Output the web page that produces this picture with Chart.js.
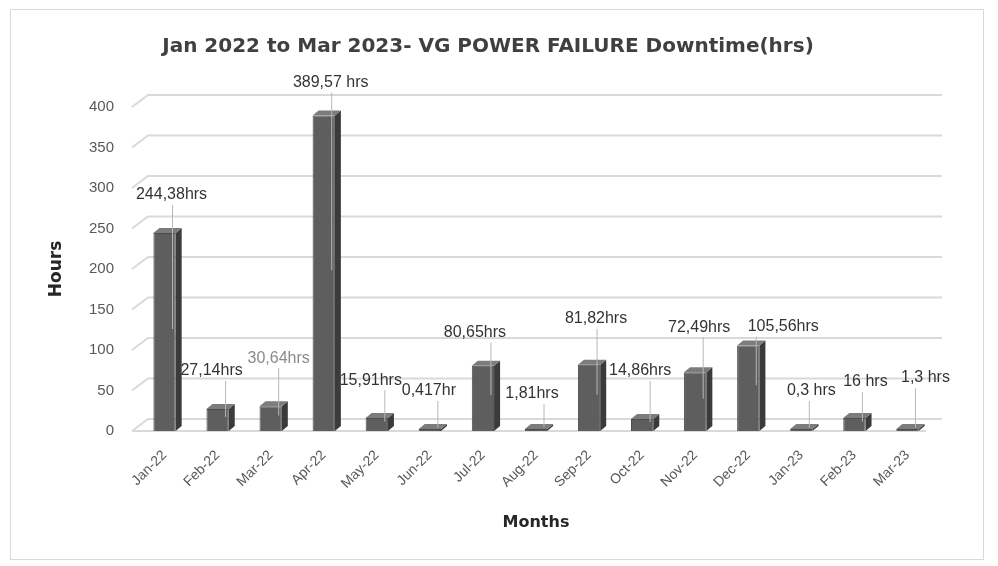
<!DOCTYPE html>
<html>
<head>
<meta charset="utf-8">
<script src="https://cdn.jsdelivr.net/npm/chart.js@4.4.0/dist/chart.umd.min.js"></script>
<style>
  body { margin: 0; background: #fff; }
  #wrap { position: relative; width: 998px; height: 566px; }
  #frame { position: absolute; left: 10px; top: 9px; width: 972px; height: 549px; border: 1px solid #d9d9d9; }
  canvas { position: absolute; left: 0; top: 0; }
</style>
</head>
<body>
<div id="wrap">
  <div id="frame"></div>
  <canvas id="chart" width="998" height="566"></canvas>
</div>
<script>
// === Data ===
const months = ['Jan-22','Feb-22','Mar-22','Apr-22','May-22','Jun-22','Jul-22','Aug-22','Sep-22','Oct-22','Nov-22','Dec-22','Jan-23','Feb-23','Mar-23'];
const downtime = [244.38, 27.14, 30.64, 389.57, 15.91, 0.417, 80.65, 1.81, 81.82, 14.86, 72.49, 105.56, 0.3, 16, 1.3];
const valueLabels = ['244,38hrs','27,14hrs','30,64hrs','389,57 hrs','15,91hrs','0,417hr','80,65hrs','1,81hrs','81,82hrs','14,86hrs','72,49hrs','105,56hrs','0,3 hrs','16 hrs','1,3 hrs'];

// label placement (px, relative to bar centre / bar top) – layout only
const labelOffsets = [[7,-38],[-6,-38],[8,-48],[7,-33],[-6,-38],[-1,-38],[-8,-33],[-4,-35],[7,-46],[-2,-48],[4,-45],[35,-19],[10,-38],[11,-36],[18,-51]];
const labelColors = months.map((m, i) => i === 2 ? '#8a8a8a' : '#333333');

const FONT = "'Liberation Sans', Arial, sans-serif";
const HEAD = "'DejaVu Sans', Verdana, sans-serif";
const DEPTH = 6, RISE = 5;

// === Back wall grid with perspective stub ===
const wallGrid = {
  id: 'wallGrid',
  beforeDatasetsDraw(chart) {
    const { ctx, chartArea: a, scales: { y } } = chart;
    ctx.save();
    ctx.strokeStyle = '#d9d9d9';
    ctx.lineWidth = 2;
    y.ticks.forEach(t => {
      const py = y.getPixelForValue(t.value);
      ctx.beginPath();
      ctx.moveTo(a.left - 6, py);
      ctx.lineTo(a.left + 10, py - 12);
      ctx.lineTo(a.right + 8, py - 12);
      ctx.stroke();
    });
    const p0 = y.getPixelForValue(0);
    ctx.beginPath();
    ctx.moveTo(a.left - 6, p0);
    ctx.lineTo(a.right - 8, p0);
    ctx.stroke();
    ctx.restore();
  }
};

// === 3D faces on bars ===
const bar3d = {
  id: 'bar3d',
  afterDatasetsDraw(chart) {
    const { ctx } = chart;
    ctx.save();
    chart.getDatasetMeta(0).data.forEach(bar => {
      const l = bar.x - bar.width / 2, r = bar.x + bar.width / 2;
      const top = Math.min(bar.y, bar.base), base = Math.max(bar.y, bar.base);
      // side
      ctx.fillStyle = '#3b3b3b';
      ctx.beginPath();
      ctx.moveTo(r, top); ctx.lineTo(r + DEPTH, top - RISE);
      ctx.lineTo(r + DEPTH, base - RISE); ctx.lineTo(r, base);
      ctx.closePath(); ctx.fill();
      // top
      ctx.fillStyle = '#7c7c7c';
      ctx.beginPath();
      ctx.moveTo(l, top); ctx.lineTo(l + DEPTH, top - RISE);
      ctx.lineTo(r + DEPTH, top - RISE); ctx.lineTo(r, top);
      ctx.closePath(); ctx.fill();
    });
    ctx.restore();
  }
};

// === Data labels with leader lines ===
const callouts = {
  id: 'callouts',
  afterDraw(chart) {
    const { ctx, scales: { y } } = chart;
    ctx.save();
    ctx.font = '16px ' + FONT;
    ctx.textAlign = 'center';
    ctx.textBaseline = 'middle';
    chart.getDatasetMeta(0).data.forEach((bar, i) => {
      const [dx, dy] = labelOffsets[i];
      const top = Math.min(bar.y, bar.base);
      const lx = bar.x + dx, ly = top + dy;
      const tw = ctx.measureText(valueLabels[i]).width;
      const ex = bar.x + 8;
      const ey = y.getPixelForValue(downtime[i] / 2) - 3;
      const sx = Math.max(lx - tw / 2 + 4, Math.min(ex, lx + tw / 2 - 4));
      ctx.strokeStyle = '#b8b8b8';
      ctx.lineWidth = 1;
      ctx.beginPath();
      ctx.moveTo(sx, ly + 10);
      ctx.lineTo(ex, ey);
      ctx.stroke();
      ctx.fillStyle = labelColors[i];
      ctx.fillText(valueLabels[i], lx, ly);
    });
    ctx.restore();
  }
};

new Chart(document.getElementById('chart'), {
  type: 'bar',
  data: {
    labels: months,
    datasets: [{
      label: 'Downtime',
      data: downtime,
      backgroundColor: '#5e5e5e',
      borderColor: '#4c4c4c',
      borderWidth: 1,
      barPercentage: 0.42,
      categoryPercentage: 1,
      minBarLength: 2
    }]
  },
  options: {
    responsive: false,
    devicePixelRatio: 1,
    animation: false,
    layout: { padding: { left: 42, right: 64, top: 20, bottom: 30 } },
    plugins: {
      legend: { display: false },
      tooltip: { enabled: false },
      title: {
        display: true,
        text: 'Jan 2022 to Mar 2023- VG POWER FAILURE Downtime(hrs)',
        color: '#404040',
        font: { family: HEAD, size: 20, weight: 'bold' },
        padding: { top: 15, bottom: 48 }
      }
    },
    scales: {
      x: {
        grid: { display: false },
        border: { display: false },
        ticks: { color: '#595959', font: { family: FONT, size: 14 }, maxRotation: 45, minRotation: 45, padding: 8 },
        title: { display: true, text: 'Months', color: '#262626', font: { family: HEAD, size: 16, weight: 'bold' }, padding: 4 },
        afterFit: s => { s.height = 105; }
      },
      y: {
        min: 0,
        max: 400,
        grid: { display: false, drawTicks: false },
        border: { display: false },
        ticks: { stepSize: 50, color: '#595959', font: { family: FONT, size: 15 }, padding: 24 },
        title: { display: true, text: 'Hours', color: '#262626', font: { family: HEAD, size: 17, weight: 'bold' }, padding: 4 },
        afterFit: s => { s.width = 96; }
      }
    }
  },
  plugins: [wallGrid, bar3d, callouts]
});
</script>
</body>
</html>
